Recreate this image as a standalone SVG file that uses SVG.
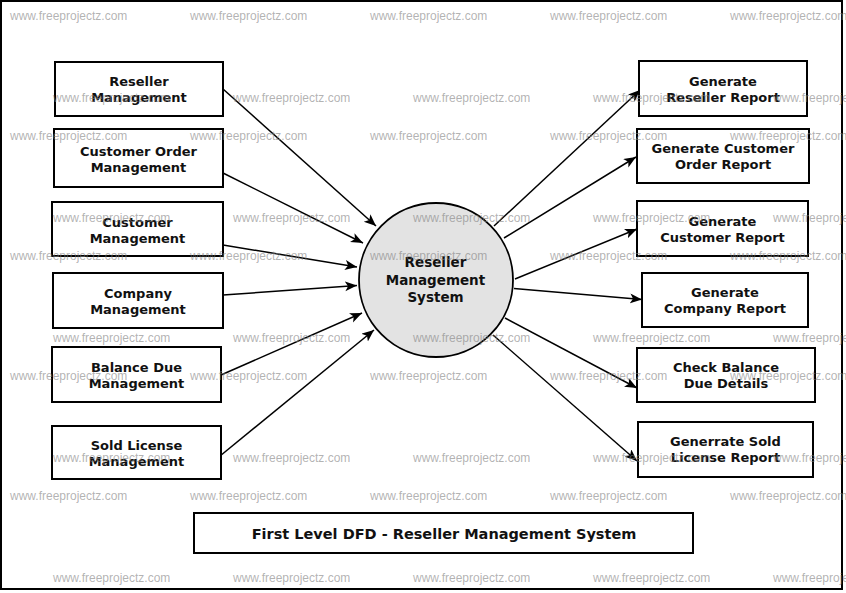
<svg xmlns="http://www.w3.org/2000/svg" width="846" height="593" viewBox="0 0 846 593">
<defs>
<marker id="arr" markerUnits="userSpaceOnUse" markerWidth="13" markerHeight="11" refX="12" refY="5" orient="auto">
<path d="M0,0 L12,5 L0,10 L3,5 z" fill="#000"/>
</marker>
<style>
.box{fill:#fff;stroke:#000;stroke-width:2}
.lbl{font-family:"DejaVu Sans",sans-serif;font-weight:bold;font-size:13px;fill:#111;text-anchor:middle}
.ttl{font-family:"DejaVu Sans",sans-serif;font-weight:bold;font-size:14.5px;fill:#111;text-anchor:middle}
.con{stroke:#000;stroke-width:1.5;fill:none;marker-end:url(#arr)}
.wm{font-family:"Liberation Sans",Arial,sans-serif;font-size:12px;fill:#808080;fill-opacity:0.6}
</style>
</defs>
<rect x="0" y="0" width="846" height="593" fill="#fff"/>
<rect x="1" y="1" width="841" height="588" fill="none" stroke="#000" stroke-width="2"/>

<g id="connectors">
<line class="con" x1="223" y1="89" x2="376" y2="226"/>
<line class="con" x1="223" y1="173" x2="363" y2="243"/>
<line class="con" x1="223" y1="245" x2="357" y2="267"/>
<line class="con" x1="223" y1="295" x2="357" y2="285.5"/>
<line class="con" x1="221" y1="375" x2="362" y2="313"/>
<line class="con" x1="220" y1="456" x2="374" y2="330"/>
<line class="con" x1="494" y1="226" x2="640" y2="90"/>
<line class="con" x1="504" y1="238" x2="636" y2="157"/>
<line class="con" x1="515" y1="279" x2="637" y2="229"/>
<line class="con" x1="514" y1="288.5" x2="642" y2="299.5"/>
<line class="con" x1="505" y1="318" x2="637" y2="388"/>
<line class="con" x1="493" y1="335" x2="637" y2="461"/>
</g>

<g id="process">
<circle cx="436" cy="280" r="77" fill="#e3e3e3" stroke="#000" stroke-width="1.8"/>
<text class="lbl" style="font-size:13.5px" x="435.5" y="267">Reseller</text>
<text class="lbl" style="font-size:13.5px" x="435.5" y="284.5">Management</text>
<text class="lbl" style="font-size:13.5px" x="435.5" y="301.5">System</text>
</g>

<g id="n-reseller-mgmt"><rect class="box" x="55" y="62" width="168" height="54"/><text class="lbl" x="139" y="86">Reseller</text><text class="lbl" x="139" y="102">Management</text></g>
<g id="n-custorder-mgmt"><rect class="box" x="54" y="129" width="169" height="58"/><text class="lbl" x="138.5" y="155.5">Customer Order</text><text class="lbl" x="138.5" y="171.5">Management</text></g>
<g id="n-customer-mgmt"><rect class="box" x="52" y="202" width="171" height="54"/><text class="lbl" x="137.5" y="226.5">Customer</text><text class="lbl" x="137.5" y="242.5">Management</text></g>
<g id="n-company-mgmt"><rect class="box" x="53" y="273" width="170" height="55"/><text class="lbl" x="138" y="297.5">Company</text><text class="lbl" x="138" y="313.5">Management</text></g>
<g id="n-balance-mgmt"><rect class="box" x="52" y="347" width="169" height="55"/><text class="lbl" x="136.5" y="371.5">Balance Due</text><text class="lbl" x="136.5" y="387.5">Management</text></g>
<g id="n-license-mgmt"><rect class="box" x="52" y="426" width="169" height="53"/><text class="lbl" x="136.5" y="449.5">Sold License</text><text class="lbl" x="136.5" y="465.5">Management</text></g>

<g id="n-reseller-report"><rect class="box" x="639" y="61" width="168" height="55"/><text class="lbl" x="723" y="85.5">Generate</text><text class="lbl" x="723" y="101.5">Reseller Report</text></g>
<g id="n-custorder-report"><rect class="box" x="637" y="129" width="172" height="54"/><text class="lbl" x="723" y="153">Generate Customer</text><text class="lbl" x="723" y="169">Order Report</text></g>
<g id="n-customer-report"><rect class="box" x="637" y="201" width="171" height="55"/><text class="lbl" x="722.5" y="225.5">Generate</text><text class="lbl" x="722.5" y="241.5">Customer Report</text></g>
<g id="n-company-report"><rect class="box" x="642" y="273" width="166" height="54"/><text class="lbl" x="725" y="297">Generate</text><text class="lbl" x="725" y="313">Company Report</text></g>
<g id="n-balance-details"><rect class="box" x="637" y="348" width="178" height="54"/><text class="lbl" x="726" y="372">Check Balance</text><text class="lbl" x="726" y="388">Due Details</text></g>
<g id="n-license-report"><rect class="box" x="638" y="422" width="175" height="55"/><text class="lbl" x="725.5" y="446">Generrate Sold</text><text class="lbl" x="725.5" y="462">License Report</text></g>

<g id="title"><rect class="box" x="194" y="513" width="499" height="40"/><text class="ttl" x="444" y="539">First Level DFD - Reseller Management System</text></g>

<g id="watermarks">
<text class="wm" x="10" y="19.5">www.freeprojectz.com</text><text class="wm" x="190" y="19.5">www.freeprojectz.com</text><text class="wm" x="370" y="19.5">www.freeprojectz.com</text><text class="wm" x="550" y="19.5">www.freeprojectz.com</text><text class="wm" x="730" y="19.5">www.freeprojectz.com</text>
<text class="wm" x="53" y="102">www.freeprojectz.com</text><text class="wm" x="233" y="102">www.freeprojectz.com</text><text class="wm" x="413" y="102">www.freeprojectz.com</text><text class="wm" x="593" y="102">www.freeprojectz.com</text><text class="wm" x="773" y="102">www.freeprojectz.com</text>
<text class="wm" x="10" y="139.5">www.freeprojectz.com</text><text class="wm" x="190" y="139.5">www.freeprojectz.com</text><text class="wm" x="370" y="139.5">www.freeprojectz.com</text><text class="wm" x="550" y="139.5">www.freeprojectz.com</text><text class="wm" x="730" y="139.5">www.freeprojectz.com</text>
<text class="wm" x="53" y="222">www.freeprojectz.com</text><text class="wm" x="233" y="222">www.freeprojectz.com</text><text class="wm" x="413" y="222">www.freeprojectz.com</text><text class="wm" x="593" y="222">www.freeprojectz.com</text><text class="wm" x="773" y="222">www.freeprojectz.com</text>
<text class="wm" x="10" y="259.5">www.freeprojectz.com</text><text class="wm" x="190" y="259.5">www.freeprojectz.com</text><text class="wm" x="370" y="259.5">www.freeprojectz.com</text><text class="wm" x="550" y="259.5">www.freeprojectz.com</text><text class="wm" x="730" y="259.5">www.freeprojectz.com</text>
<text class="wm" x="53" y="342">www.freeprojectz.com</text><text class="wm" x="233" y="342">www.freeprojectz.com</text><text class="wm" x="413" y="342">www.freeprojectz.com</text><text class="wm" x="593" y="342">www.freeprojectz.com</text><text class="wm" x="773" y="342">www.freeprojectz.com</text>
<text class="wm" x="10" y="379.5">www.freeprojectz.com</text><text class="wm" x="190" y="379.5">www.freeprojectz.com</text><text class="wm" x="370" y="379.5">www.freeprojectz.com</text><text class="wm" x="550" y="379.5">www.freeprojectz.com</text><text class="wm" x="730" y="379.5">www.freeprojectz.com</text>
<text class="wm" x="53" y="462">www.freeprojectz.com</text><text class="wm" x="233" y="462">www.freeprojectz.com</text><text class="wm" x="413" y="462">www.freeprojectz.com</text><text class="wm" x="593" y="462">www.freeprojectz.com</text><text class="wm" x="773" y="462">www.freeprojectz.com</text>
<text class="wm" x="10" y="499.5">www.freeprojectz.com</text><text class="wm" x="190" y="499.5">www.freeprojectz.com</text><text class="wm" x="370" y="499.5">www.freeprojectz.com</text><text class="wm" x="550" y="499.5">www.freeprojectz.com</text><text class="wm" x="730" y="499.5">www.freeprojectz.com</text>
<text class="wm" x="53" y="582">www.freeprojectz.com</text><text class="wm" x="233" y="582">www.freeprojectz.com</text><text class="wm" x="413" y="582">www.freeprojectz.com</text><text class="wm" x="593" y="582">www.freeprojectz.com</text><text class="wm" x="773" y="582">www.freeprojectz.com</text>
</g>
</svg>
